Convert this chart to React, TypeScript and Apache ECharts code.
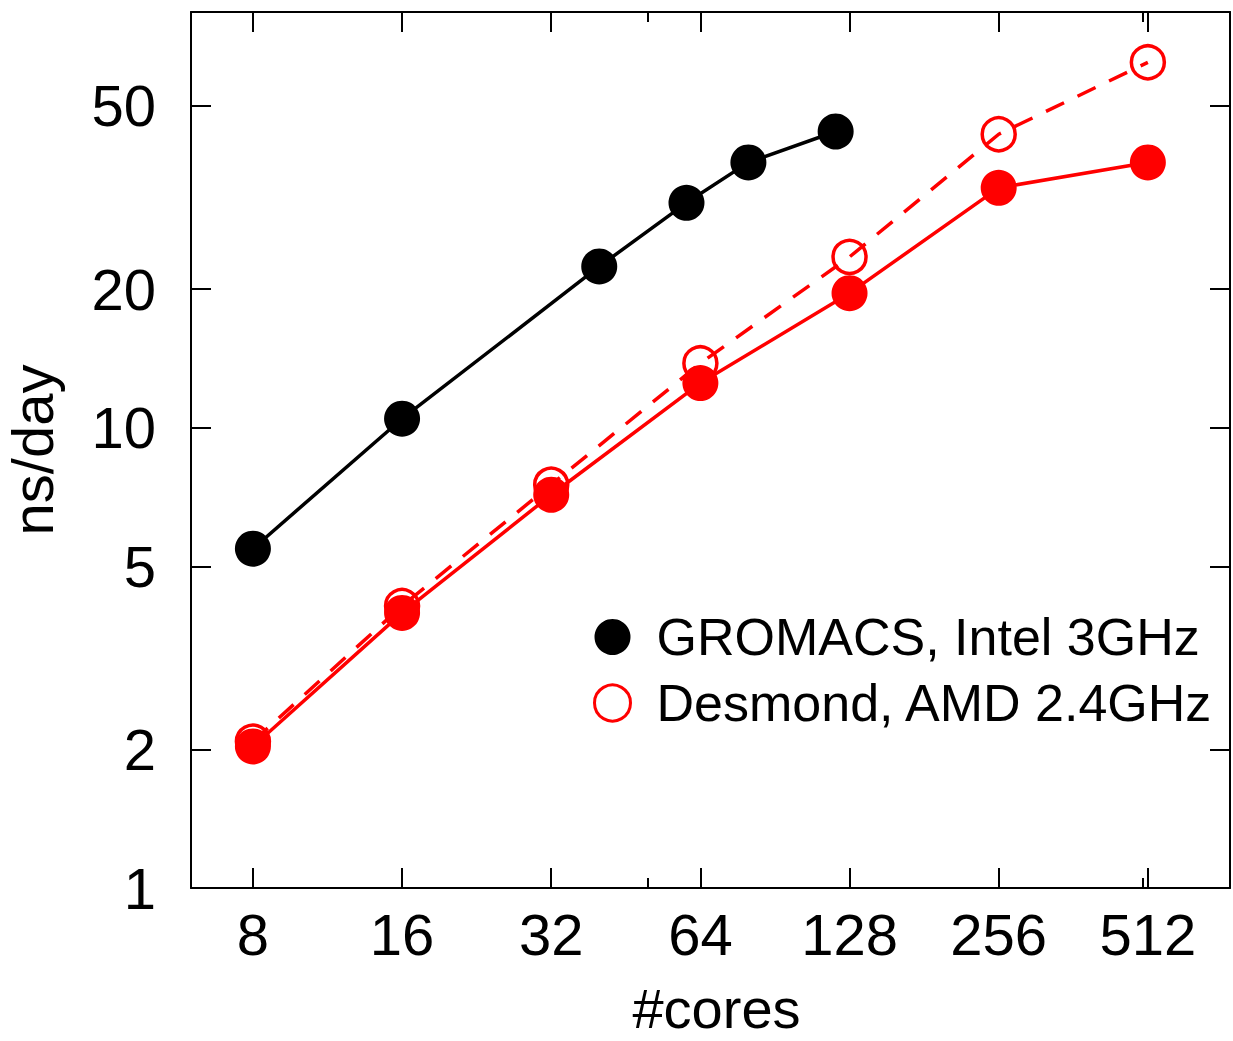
import React, { useEffect, useRef } from "react";
import * as echarts from "echarts";

// ---- data ----
const gromacsCores = [8, 16, 40, 60, 80, 120];
const gromacsNsDay = [5.46, 10.46, 22.4, 30.8, 37.7, 44.0];

const desmondCores = [8, 16, 32, 64, 128, 256, 512];
const desmondFilledNsDay = [2.03, 3.96, 7.15, 12.5, 19.6, 33.2, 37.7];
const desmondOpenNsDay = [2.08, 4.1, 7.52, 13.8, 23.5, 43.4, 62.2];

const xTickValues = [8, 16, 32, 64, 128, 256, 512];
const xMinorTickValues = [50, 500];
const yTickValues = [1, 2, 5, 10, 20, 50];

const GROMACS_NAME = "GROMACS, Intel 3GHz";
const DESMOND_NAME = "Desmond, AMD 2.4GHz";
const DESMOND_FILLED_NAME = "Desmond, AMD 2.4GHz (filled)";

const FONT = "'Liberation Sans', Arial, Helvetica, sans-serif";
const RED = "#ff0000";

export default function App() {
  const ref = useRef<HTMLDivElement>(null);

  useEffect(() => {
    if (!ref.current) return;
    const chart = echarts.init(ref.current, null, { renderer: "svg" });

    const zip = (xs: number[], ys: number[]) => xs.map((x, i) => [x, ys[i]]);

    const X_MIN = 6;
    const X_MAX = 750;
    const Y_MIN = 1;
    const Y_MAX = 80;

    const baseX = {
      type: "log" as const,
      logBase: 2,
      min: X_MIN,
      max: X_MAX,
      splitLine: { show: false },
    };
    const baseY = {
      type: "log" as const,
      logBase: 10,
      min: Y_MIN,
      max: Y_MAX,
      splitLine: { show: false },
    };
    const lineStyle = { color: "#000", width: 2 };

    chart.setOption({
      animation: false,
      backgroundColor: "#fff",
      grid: {
        left: 191,
        right: 3,
        top: 12,
        bottom: 153,
        containLabel: false,
        outerBoundsMode: "none",
      },
      legend: {
        orient: "vertical",
        left: 593,
        top: 611,
        padding: 0,
        itemWidth: 36,
        itemHeight: 36,
        itemGap: 14,
        selectedMode: false,
        textStyle: {
          fontSize: 52,
          fontFamily: FONT,
          color: "#000",
          padding: [0, 0, 0, 21],
        },
        data: [
          { name: GROMACS_NAME, icon: "circle", itemStyle: { color: "#000" } },
          {
            name: DESMOND_NAME,
            icon: "circle",
            itemStyle: { color: "#fff", borderColor: RED, borderWidth: 3 },
          },
        ],
      },
      xAxis: [
        {
          ...baseX,
          position: "bottom",
          name: "#cores",
          nameLocation: "middle",
          nameGap: 97,
          nameTextStyle: {
            fontSize: 56,
            fontFamily: FONT,
            color: "#000",
            lineHeight: 46,
            padding: [0, 0, 0, 12],
          },
          axisLine: { show: true, lineStyle },
          axisTick: {
            show: true,
            inside: true,
            length: 20,
            customValues: xTickValues,
            lineStyle,
          },
          axisLabel: {
            show: true,
            margin: 17,
            fontSize: 58,
            fontFamily: FONT,
            color: "#000",
            customValues: xTickValues,
            formatter: (v: number) => String(Math.round(v)),
          },
        },
        {
          ...baseX,
          position: "top",
          axisLine: { show: true, lineStyle },
          axisTick: {
            show: true,
            inside: true,
            length: 20,
            customValues: xTickValues,
            lineStyle,
          },
          axisLabel: { show: false },
        },
        {
          ...baseX,
          position: "bottom",
          axisLine: { show: false },
          axisTick: {
            show: true,
            inside: true,
            length: 10,
            customValues: xMinorTickValues,
            lineStyle,
          },
          axisLabel: { show: false },
        },
        {
          ...baseX,
          position: "top",
          axisLine: { show: false },
          axisTick: {
            show: true,
            inside: true,
            length: 10,
            customValues: xMinorTickValues,
            lineStyle,
          },
          axisLabel: { show: false },
        },
      ],
      yAxis: [
        {
          ...baseY,
          position: "left",
          name: "ns/day",
          nameLocation: "middle",
          nameGap: 130,
          nameTextStyle: { fontSize: 58, fontFamily: FONT, color: "#000" },
          axisLine: { show: true, lineStyle },
          axisTick: {
            show: true,
            inside: true,
            length: 20,
            customValues: yTickValues,
            lineStyle,
          },
          axisLabel: {
            show: true,
            margin: 35,
            fontSize: 58,
            fontFamily: FONT,
            color: "#000",
            customValues: yTickValues,
            formatter: (v: number) => String(Math.round(v)),
          },
        },
        {
          ...baseY,
          position: "right",
          axisLine: { show: true, lineStyle },
          axisTick: {
            show: true,
            inside: true,
            length: 20,
            customValues: yTickValues,
            lineStyle,
          },
          axisLabel: { show: false },
        },
      ],
      series: [
        {
          name: GROMACS_NAME,
          type: "line",
          xAxisIndex: 0,
          yAxisIndex: 0,
          data: zip(gromacsCores, gromacsNsDay),
          symbol: "circle",
          symbolSize: 36,
          showAllSymbol: true,
          itemStyle: { color: "#000" },
          lineStyle: { color: "#000", width: 3.5 },
          z: 3,
        },
        {
          name: DESMOND_NAME,
          type: "line",
          xAxisIndex: 0,
          yAxisIndex: 0,
          data: zip(desmondCores, desmondOpenNsDay),
          symbol: "circle",
          symbolSize: 33,
          showAllSymbol: true,
          itemStyle: {
            color: "rgba(255,255,255,0)",
            borderColor: RED,
            borderWidth: 3.5,
          },
          lineStyle: { color: RED, width: 3.5, type: [20, 15] },
          z: 3,
        },
        {
          name: DESMOND_FILLED_NAME,
          type: "line",
          xAxisIndex: 0,
          yAxisIndex: 0,
          data: zip(desmondCores, desmondFilledNsDay),
          symbol: "circle",
          symbolSize: 36,
          showAllSymbol: true,
          itemStyle: { color: RED },
          lineStyle: { color: RED, width: 3.5 },
          z: 4,
        },
      ],
    });

    return () => {
      chart.dispose();
    };
  }, []);

  return (
    <div
      ref={ref}
      style={{
        position: "fixed",
        left: 0,
        top: 0,
        width: 1233,
        height: 1041,
        background: "#fff",
      }}
    />
  );
}
